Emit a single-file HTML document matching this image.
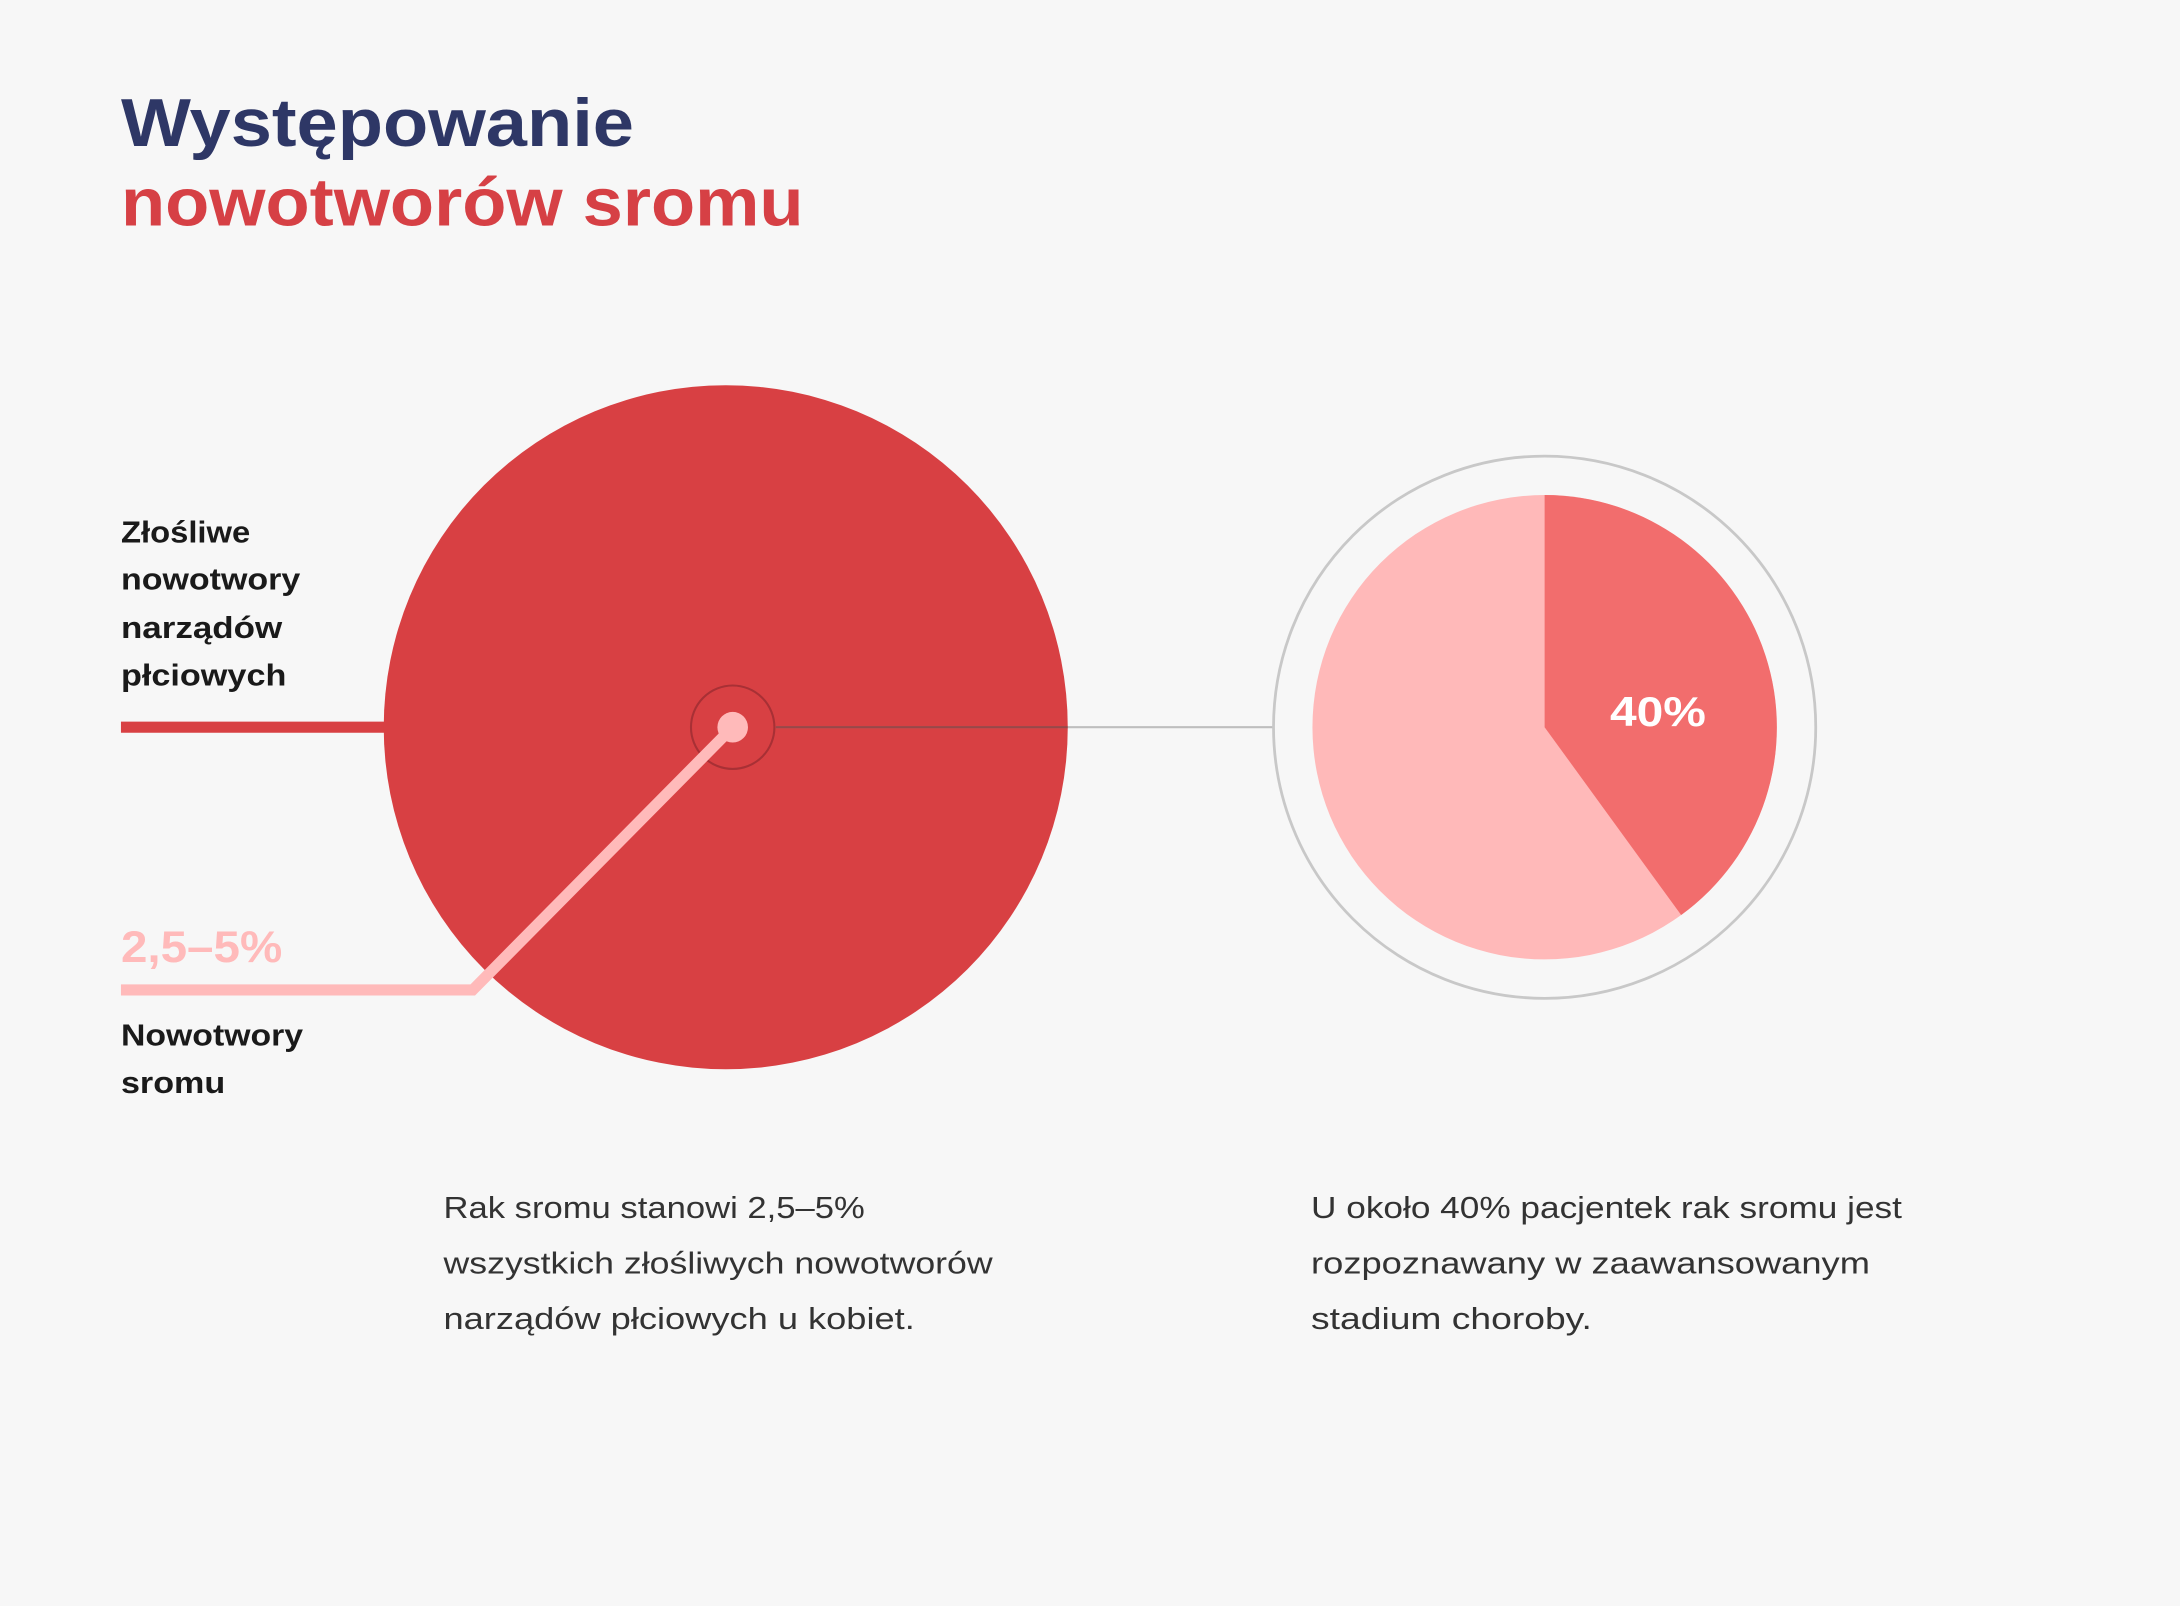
<!DOCTYPE html>
<html><head><meta charset="utf-8"><style>
html,body{margin:0;padding:0;background:#f7f7f7;}
svg{display:block;}
text{font-family:"Liberation Sans",sans-serif;}
</style></head><body>
<svg width="2180" height="1606" viewBox="0 0 1568 1155" xmlns="http://www.w3.org/2000/svg">
<rect width="1568" height="1155" fill="#f7f7f7"/>
<text x="87" y="105" font-size="49" font-weight="bold" fill="#2e3766" textLength="369" lengthAdjust="spacingAndGlyphs">Występowanie</text>
<text x="87" y="162" font-size="49" font-weight="bold" fill="#d64045" textLength="491" lengthAdjust="spacingAndGlyphs">nowotworów sromu</text>

<line x1="87" y1="523" x2="280" y2="523" stroke="#d84043" stroke-width="8"/>
<circle cx="522" cy="523" r="246" fill="#d84043"/>
<line x1="558" y1="523" x2="916" y2="523" stroke="#999" stroke-width="1.5" opacity="0.6"/>
<line x1="558" y1="523" x2="768" y2="523" stroke="#8a2a2a" stroke-width="1.5" opacity="0.6"/>
<circle cx="527" cy="523" r="30" fill="none" stroke="#a83035" stroke-width="1.5"/>
<polyline points="527,523 340,712 87,712" fill="none" stroke="#ffbaba" stroke-width="8"/>
<circle cx="527" cy="523" r="11" fill="#ffbaba"/>

<g font-size="22" font-weight="bold" fill="#1a1a1a" lengthAdjust="spacingAndGlyphs">
<text x="87" y="390" textLength="93" lengthAdjust="spacingAndGlyphs">Złośliwe</text>
<text x="87" y="424" textLength="129" lengthAdjust="spacingAndGlyphs">nowotwory</text>
<text x="87" y="459" textLength="116" lengthAdjust="spacingAndGlyphs">narządów</text>
<text x="87" y="493" textLength="119" lengthAdjust="spacingAndGlyphs">płciowych</text>
<text x="87" y="752" textLength="131" lengthAdjust="spacingAndGlyphs">Nowotwory</text>
<text x="87" y="786" textLength="75" lengthAdjust="spacingAndGlyphs">sromu</text>
</g>
<text x="87" y="692" font-size="32" font-weight="bold" fill="#ffbaba" textLength="116" lengthAdjust="spacingAndGlyphs">2,5–5%</text>

<circle cx="1111" cy="523" r="195" fill="none" stroke="#c8c8c8" stroke-width="2"/>
<circle cx="1111" cy="523" r="167" fill="#ffb9b9"/>
<path d="M1111,523 L1111,356 A167,167 0 0 1 1209.2,658.1 Z" fill="#f26d6d"/>
<text x="1158" y="522" font-size="30" font-weight="bold" fill="#fff" textLength="69" lengthAdjust="spacingAndGlyphs">40%</text>

<g font-size="22" fill="#333">
<text x="319" y="876" textLength="303" lengthAdjust="spacingAndGlyphs">Rak sromu stanowi 2,5–5%</text>
<text x="319" y="916" textLength="395" lengthAdjust="spacingAndGlyphs">wszystkich złośliwych nowotworów</text>
<text x="319" y="956" textLength="339" lengthAdjust="spacingAndGlyphs">narządów płciowych u kobiet.</text>
<text x="943" y="876" textLength="425" lengthAdjust="spacingAndGlyphs">U około 40% pacjentek rak sromu jest</text>
<text x="943" y="916" textLength="402" lengthAdjust="spacingAndGlyphs">rozpoznawany w zaawansowanym</text>
<text x="943" y="956" textLength="202" lengthAdjust="spacingAndGlyphs">stadium choroby.</text>
</g>
</svg>
</body></html>
